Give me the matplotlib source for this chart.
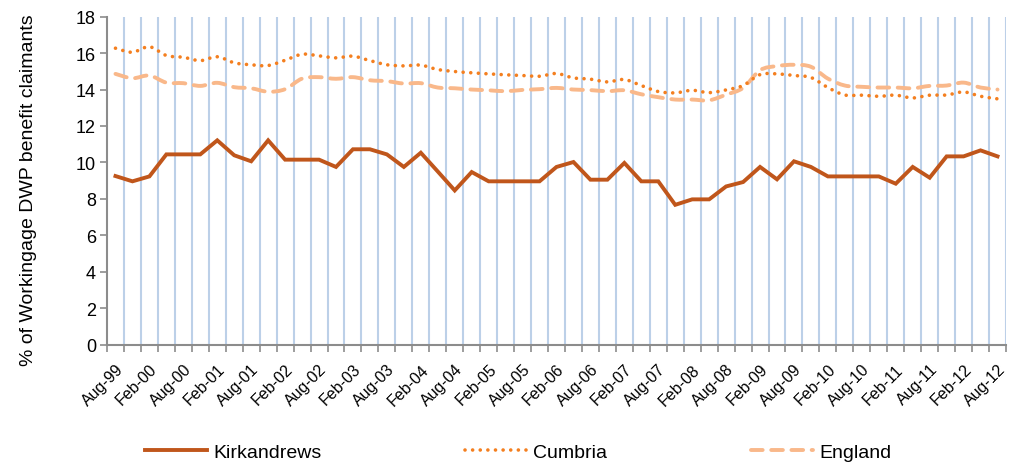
import matplotlib
matplotlib.use("Agg")
import matplotlib.pyplot as plt
import numpy as np
from matplotlib.path import Path
from matplotlib.patches import PathPatch
from matplotlib.lines import Line2D

plt.rcParams['font.family'] = ['Liberation Sans', 'DejaVu Sans']

# ---------------- data ----------------
quarters = []
for yr in range(1999, 2013):
    for m in ["Feb", "May", "Aug", "Nov"]:
        quarters.append(f"{m}-{yr % 100:02d}")
quarters = quarters[quarters.index("Aug-99"):quarters.index("Aug-12") + 1]

kirkandrews = [9.25, 8.96, 9.23, 10.44, 10.44, 10.44, 11.21, 10.39, 10.06, 11.21,
               10.15, 10.15, 10.15, 9.75, 10.72, 10.72, 10.44, 9.75, 10.53, 9.5,
               8.46, 9.47, 8.96, 8.96, 8.96, 8.96, 9.75, 10.02, 9.05, 9.05,
               9.97, 8.96, 8.96, 7.67, 7.97, 7.97, 8.68, 8.92, 9.75, 9.07,
               10.06, 9.75, 9.23, 9.23, 9.23, 9.23, 8.83, 9.75, 9.16, 10.33,
               10.33, 10.66, 10.33]

cumbria = [16.27, 16.05, 16.35, 15.87, 15.77, 15.59, 15.80, 15.47, 15.36, 15.32,
           15.61, 15.94, 15.85, 15.74, 15.83, 15.59, 15.36, 15.30, 15.34, 15.10,
           14.99, 14.92, 14.86, 14.81, 14.77, 14.73, 14.88, 14.64, 14.57, 14.42,
           14.55, 14.22, 13.89, 13.82, 13.96, 13.83, 13.98, 14.22, 14.82, 14.86,
           14.77, 14.66, 14.11, 13.70, 13.69, 13.63, 13.69, 13.54, 13.69, 13.70,
           13.87, 13.63, 13.49]

england = [14.86, 14.62, 14.77, 14.38, 14.35, 14.20, 14.37, 14.13, 14.07, 13.88,
           14.02, 14.60, 14.68, 14.59, 14.68, 14.51, 14.46, 14.33, 14.35, 14.11,
           14.07, 14.00, 13.96, 13.91, 13.98, 14.02, 14.09, 14.00, 13.97, 13.91,
           13.96, 13.74, 13.58, 13.45, 13.45, 13.41, 13.72, 14.09, 15.06, 15.29,
           15.36, 15.25, 14.60, 14.22, 14.15, 14.11, 14.11, 14.07, 14.20, 14.22,
           14.38, 14.11, 14.00]

series_names = ["Kirkandrews", "Cumbria", "England"]
y_label = "% of Workingage DWP benefit claimants"
y_ticks = [0, 2, 4, 6, 8, 10, 12, 14, 16, 18]

# ---------------- styling ----------------
c_kirk = "#C0561B"
c_cumb = "#F47F1F"
c_eng = "#F9B88A"
grid_c = "#BCD0E8"
axis_c = "#8C8C8C"

dot_style = (0, (0.01, 2.1))
dash_style = (0, (3.0, 2.2))


def smooth_path(xs, ys):
    P = np.column_stack([xs, ys]).astype(float)
    n = len(P)
    verts = [P[0]]
    codes = [Path.MOVETO]
    for i in range(n - 1):
        p0 = P[i - 1] if i > 0 else P[i]
        p1 = P[i]
        p2 = P[i + 1]
        p3 = P[i + 2] if i + 2 < n else P[i + 1]
        c1 = p1 + (p2 - p0) / 6.0
        c2 = p2 - (p3 - p1) / 6.0
        verts += [c1, c2, p2]
        codes += [Path.CURVE4] * 3
    return Path(np.array(verts), codes)


fig = plt.figure(figsize=(10.09, 4.64), dpi=100)
ax = fig.add_axes([107 / 1009, 1 - 345.5 / 464, (1006 - 107) / 1009, (345.5 - 17.7) / 464])

x = np.arange(len(quarters))

# vertical gridlines at category boundaries
bounds = np.arange(len(quarters) + 1) - 0.5
for b in bounds[1:]:
    ax.axvline(b, color=grid_c, lw=1.5, zorder=1)

# Kirkandrews straight line
ax.plot(x, kirkandrews, color=c_kirk, lw=2.8, solid_joinstyle='miter', zorder=4)

# Cumbria smoothed dotted
pc = PathPatch(smooth_path(x, cumbria), fill=False, edgecolor=c_cumb, lw=2.6,
               linestyle=dot_style, zorder=3)
pc.set_capstyle('round')
ax.add_patch(pc)

# England smoothed dashed
pe = PathPatch(smooth_path(x, england), fill=False, edgecolor=c_eng, lw=2.8,
               linestyle=dash_style, zorder=2)
pe.set_capstyle('round')
ax.add_patch(pe)

ax.set_xlim(-0.5, len(quarters) - 0.5)
ax.set_ylim(0, 18)
ax.set_yticks(y_ticks)
ax.set_yticklabels([str(t) for t in y_ticks], fontsize=13)

ax.set_xticks(bounds)
ax.set_xticklabels([])
ax.set_xticks(x[::2], minor=True)
ax.set_xticklabels(quarters[::2], minor=True, rotation=45, ha='right',
                   rotation_mode='anchor', fontsize=11.5)
ax.tick_params(axis='x', which='major', length=5, width=1.2, color=axis_c, direction='out')
ax.tick_params(axis='x', which='minor', length=0, pad=12)
ax.tick_params(axis='y', length=5, width=1.2, color=axis_c, direction='out', pad=3)

for s in ['top', 'right']:
    ax.spines[s].set_visible(False)
for s in ['left', 'bottom']:
    ax.spines[s].set_color(axis_c)
    ax.spines[s].set_linewidth(1.5)
    ax.spines[s].set_zorder(5)

ax.set_ylabel(y_label, fontsize=14)
ax.yaxis.set_label_coords(-0.078, 0.474)

handles = [
    Line2D([], [], color=c_kirk, lw=2.8),
    Line2D([], [], color=c_cumb, lw=2.6, linestyle=dot_style, dash_capstyle='round'),
    Line2D([], [], color=c_eng, lw=2.8, linestyle=dash_style, dash_capstyle='round'),
]
fig.legend(handles, series_names, loc='center', bbox_to_anchor=(518 / 1009, 1 - 453 / 464),
           ncol=3, frameon=False, fontsize=14, handlelength=3.2, handletextpad=0.3,
           columnspacing=7.4, borderpad=0)

fig.savefig("out.png", dpi=100)
